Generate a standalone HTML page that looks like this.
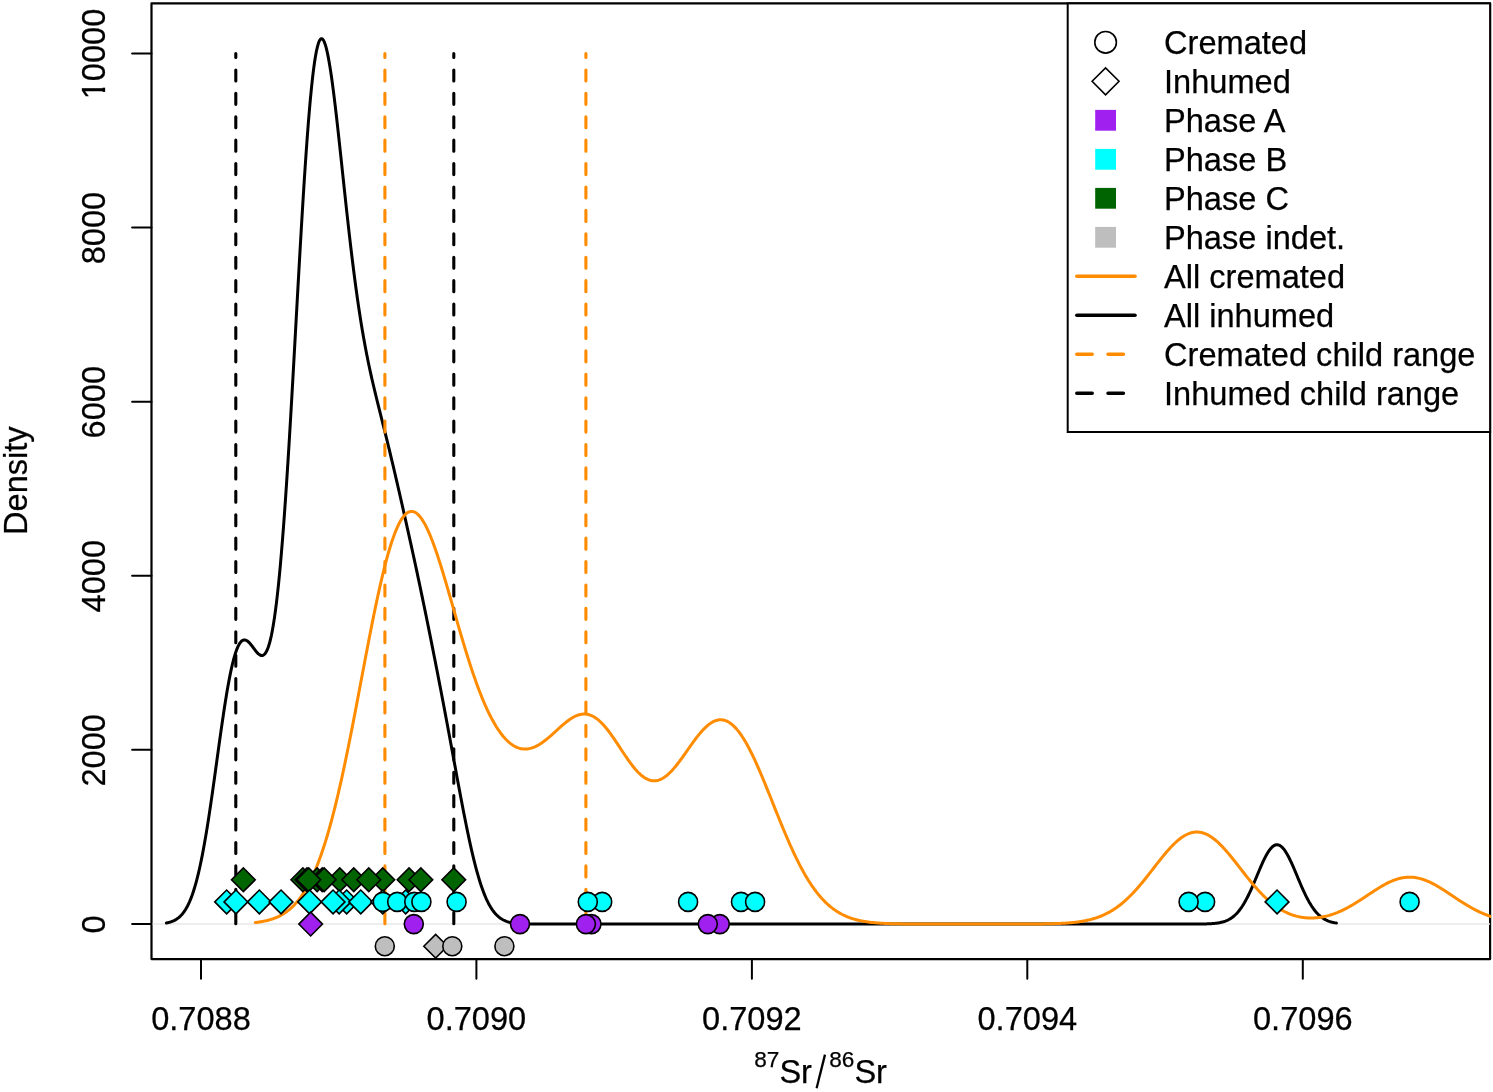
<!DOCTYPE html>
<html><head><meta charset="utf-8"><title>Sr density</title>
<style>
html,body{margin:0;padding:0;background:#fff;}
svg{display:block;will-change:transform;}
text{font-family:"Liberation Sans",sans-serif;font-size:32.6px;fill:#000;stroke:#000;stroke-width:0.25px;}
.sup{font-size:22.6px;}
</style></head><body>
<svg width="1493" height="1092" viewBox="0 0 1493 1092">
<rect x="0" y="0" width="1493" height="1092" fill="#fff"/>
<defs><clipPath id="pc"><rect x="151.5" y="3.4" width="1339.6" height="955.7"/></clipPath></defs>
<rect x="151.5" y="3.4" width="1338.6" height="955.7" fill="none" stroke="#000" stroke-width="2.2" stroke-linejoin="round"/>
<g clip-path="url(#pc)">
<line x1="151.5" y1="924.0" x2="1490.1" y2="924.0" stroke="#e9e9e9" stroke-width="1.6"/>
<path d="M166.4,922.91 L167.4,922.72 L168.4,922.51 L169.4,922.26 L170.4,921.97 L171.4,921.65 L172.4,921.28 L173.4,920.87 L174.4,920.40 L175.4,919.86 L176.4,919.27 L177.4,918.60 L178.4,917.85 L179.4,917.01 L180.4,916.08 L181.4,915.05 L182.4,913.91 L183.4,912.64 L184.4,911.25 L185.4,909.72 L186.4,908.05 L187.4,906.22 L188.4,904.22 L189.4,902.05 L190.4,899.70 L191.4,897.15 L192.4,894.41 L193.4,891.45 L194.4,888.28 L195.4,884.89 L196.4,881.28 L197.4,877.43 L198.4,873.34 L199.4,869.02 L200.4,864.45 L201.4,859.65 L202.4,854.61 L203.4,849.33 L204.4,843.82 L205.4,838.09 L206.4,832.15 L207.4,826.00 L208.4,819.66 L209.4,813.14 L210.4,806.46 L211.4,799.62 L212.4,792.67 L213.4,785.60 L214.4,778.45 L215.4,771.24 L216.4,763.99 L217.4,756.73 L218.4,749.49 L219.4,742.28 L220.4,735.15 L221.4,728.11 L222.4,721.19 L223.4,714.42 L224.4,707.83 L225.4,701.44 L226.4,695.28 L227.4,689.37 L228.4,683.73 L229.4,678.39 L230.4,673.35 L231.4,668.64 L232.4,664.27 L233.4,660.26 L234.4,656.60 L235.4,653.31 L236.4,650.40 L237.4,647.85 L238.4,645.68 L239.4,643.87 L240.4,642.42 L241.4,641.31 L242.4,640.54 L243.4,640.08 L244.4,639.93 L245.4,640.05 L246.4,640.43 L247.4,641.04 L248.4,641.85 L249.4,642.84 L250.4,643.96 L251.4,645.20 L252.4,646.51 L253.4,647.86 L254.4,649.21 L255.4,650.53 L256.4,651.78 L257.4,652.91 L258.4,653.89 L259.4,654.68 L260.4,655.24 L261.4,655.53 L262.4,655.51 L263.4,655.14 L264.4,654.39 L265.4,653.21 L266.4,651.57 L267.4,649.44 L268.4,646.78 L269.4,643.56 L270.4,639.75 L271.4,635.33 L272.4,630.26 L273.4,624.53 L274.4,618.11 L275.4,610.99 L276.4,603.16 L277.4,594.61 L278.4,585.33 L279.4,575.32 L280.4,564.59 L281.4,553.14 L282.4,540.98 L283.4,528.13 L284.4,514.62 L285.4,500.48 L286.4,485.72 L287.4,470.40 L288.4,454.55 L289.4,438.23 L290.4,421.47 L291.4,404.34 L292.4,386.90 L293.4,369.21 L294.4,351.34 L295.4,333.35 L296.4,315.32 L297.4,297.32 L298.4,279.42 L299.4,261.71 L300.4,244.25 L301.4,227.12 L302.4,210.39 L303.4,194.13 L304.4,178.41 L305.4,163.31 L306.4,148.87 L307.4,135.15 L308.4,122.21 L309.4,110.10 L310.4,98.86 L311.4,88.53 L312.4,79.13 L313.4,70.69 L314.4,63.23 L315.4,56.76 L316.4,51.28 L317.4,46.80 L318.4,43.31 L319.4,40.80 L320.4,39.25 L321.4,38.64 L322.4,38.94 L323.4,40.12 L324.4,42.14 L325.4,44.97 L326.4,48.56 L327.4,52.87 L328.4,57.85 L329.4,63.45 L330.4,69.63 L331.4,76.34 L332.4,83.52 L333.4,91.13 L334.4,99.12 L335.4,107.44 L336.4,116.04 L337.4,124.87 L338.4,133.89 L339.4,143.07 L340.4,152.35 L341.4,161.70 L342.4,171.08 L343.4,180.47 L344.4,189.82 L345.4,199.11 L346.4,208.31 L347.4,217.41 L348.4,226.36 L349.4,235.16 L350.4,243.80 L351.4,252.24 L352.4,260.49 L353.4,268.53 L354.4,276.34 L355.4,283.94 L356.4,291.31 L357.4,298.44 L358.4,305.35 L359.4,312.02 L360.4,318.47 L361.4,324.70 L362.4,330.70 L363.4,336.50 L364.4,342.10 L365.4,347.51 L366.4,352.73 L367.4,357.79 L368.4,362.69 L369.4,367.44 L370.4,372.06 L371.4,376.57 L372.4,380.97 L373.4,385.27 L374.4,389.50 L375.4,393.65 L376.4,397.76 L377.4,401.82 L378.4,405.84 L379.4,409.85 L380.4,413.84 L381.4,417.82 L382.4,421.81 L383.4,425.81 L384.4,429.82 L385.4,433.84 L386.4,437.89 L387.4,441.96 L388.4,446.06 L389.4,450.19 L390.4,454.34 L391.4,458.53 L392.4,462.74 L393.4,466.97 L394.4,471.23 L395.4,475.51 L396.4,479.82 L397.4,484.15 L398.4,488.49 L399.4,492.86 L400.4,497.24 L401.4,501.63 L402.4,506.04 L403.4,510.46 L404.4,514.90 L405.4,519.36 L406.4,523.82 L407.4,528.30 L408.4,532.80 L409.4,537.31 L410.4,541.84 L411.4,546.39 L412.4,550.96 L413.4,555.55 L414.4,560.15 L415.4,564.79 L416.4,569.44 L417.4,574.12 L418.4,578.82 L419.4,583.54 L420.4,588.29 L421.4,593.07 L422.4,597.87 L423.4,602.69 L424.4,607.54 L425.4,612.41 L426.4,617.31 L427.4,622.22 L428.4,627.16 L429.4,632.13 L430.4,637.11 L431.4,642.11 L432.4,647.13 L433.4,652.18 L434.4,657.24 L435.4,662.33 L436.4,667.43 L437.4,672.56 L438.4,677.71 L439.4,682.88 L440.4,688.07 L441.4,693.29 L442.4,698.52 L443.4,703.78 L444.4,709.06 L445.4,714.37 L446.4,719.69 L447.4,725.04 L448.4,730.41 L449.4,735.79 L450.4,741.19 L451.4,746.61 L452.4,752.03 L453.4,757.46 L454.4,762.89 L455.4,768.32 L456.4,773.74 L457.4,779.15 L458.4,784.54 L459.4,789.90 L460.4,795.22 L461.4,800.51 L462.4,805.74 L463.4,810.92 L464.4,816.03 L465.4,821.07 L466.4,826.03 L467.4,830.90 L468.4,835.68 L469.4,840.35 L470.4,844.91 L471.4,849.35 L472.4,853.67 L473.4,857.85 L474.4,861.91 L475.4,865.82 L476.4,869.59 L477.4,873.21 L478.4,876.69 L479.4,880.01 L480.4,883.18 L481.4,886.20 L482.4,889.07 L483.4,891.78 L484.4,894.35 L485.4,896.77 L486.4,899.05 L487.4,901.18 L488.4,903.18 L489.4,905.04 L490.4,906.78 L491.4,908.39 L492.4,909.88 L493.4,911.26 L494.4,912.53 L495.4,913.69 L496.4,914.76 L497.4,915.74 L498.4,916.63 L499.4,917.44 L500.4,918.18 L501.4,918.84 L502.4,919.45 L503.4,919.99 L504.4,920.47 L505.4,920.91 L506.4,921.30 L507.4,921.64 L508.4,921.95 L509.4,922.22 L510.4,922.46 L511.4,922.68 L512.4,922.86 L513.4,923.03 L514.4,923.17 L515.4,923.29 L516.4,923.40 L517.4,923.50 L518.4,923.58 L519.4,923.65 L520.4,923.71 L521.4,923.76 L522.4,923.81 L523.4,923.85 L524.4,923.88 L525.4,923.91 L526.4,923.93 L527.4,923.95 L528.4,923.97 L529.4,923.98 L530.4,923.99 L531.4,924.00 L532.4,924.01 L533.4,924.02 L534.4,924.02 L535.4,924.03 L536.4,924.03 L537.4,924.04 L538.4,924.04 L539.4,924.04 L540.4,924.04 L541.4,924.04 L542.4,924.05 L543.4,924.05 L544.4,924.05 L545.4,924.05 L546.4,924.05 L547.4,924.05 L548.4,924.05 L549.4,924.05 L550.4,924.05 L551.4,924.05 L552.4,924.05 L553.4,924.05 L554.4,924.05 L555.4,924.05 L556.4,924.05 L557.4,924.05 L558.4,924.05 L559.4,924.05 L560.4,924.05 L561.4,924.05 L562.4,924.05 L563.4,924.05 L564.4,924.05 L565.4,924.05 L566.4,924.05 L567.4,924.05 L568.4,924.05 L569.4,924.05 L570.4,924.05 L571.4,924.05 L572.4,924.05 L573.4,924.05 L574.4,924.05 L575.4,924.05 L576.4,924.05 L577.4,924.05 L578.4,924.05 L579.4,924.05 L580.4,924.05 L581.4,924.05 L582.4,924.05 L583.4,924.05 L584.4,924.05 L585.4,924.05 L586.4,924.05 L587.4,924.05 L588.4,924.05 L589.4,924.05 L590.4,924.05 L591.4,924.05 L592.4,924.05 L593.4,924.05 L594.4,924.05 L595.4,924.05 L596.4,924.05 L597.4,924.05 L598.4,924.05 L599.4,924.05 L600.4,924.05 L601.4,924.05 L602.4,924.05 L603.4,924.05 L604.4,924.05 L605.4,924.05 L606.4,924.05 L607.4,924.05 L608.4,924.05 L609.4,924.05 L610.4,924.05 L611.4,924.05 L612.4,924.05 L613.4,924.05 L614.4,924.05 L615.4,924.05 L616.4,924.05 L617.4,924.05 L618.4,924.05 L619.4,924.05 L620.4,924.05 L621.4,924.05 L622.4,924.05 L623.4,924.05 L624.4,924.05 L625.4,924.05 L626.4,924.05 L627.4,924.05 L628.4,924.05 L629.4,924.05 L630.4,924.05 L631.4,924.05 L632.4,924.05 L633.4,924.05 L634.4,924.05 L635.4,924.05 L636.4,924.05 L637.4,924.05 L638.4,924.05 L639.4,924.05 L640.4,924.05 L641.4,924.05 L642.4,924.05 L643.4,924.05 L644.4,924.05 L645.4,924.05 L646.4,924.05 L647.4,924.05 L648.4,924.05 L649.4,924.05 L650.4,924.05 L651.4,924.05 L652.4,924.05 L653.4,924.05 L654.4,924.05 L655.4,924.05 L656.4,924.05 L657.4,924.05 L658.4,924.05 L659.4,924.05 L660.4,924.05 L661.4,924.05 L662.4,924.05 L663.4,924.05 L664.4,924.05 L665.4,924.05 L666.4,924.05 L667.4,924.05 L668.4,924.05 L669.4,924.05 L670.4,924.05 L671.4,924.05 L672.4,924.05 L673.4,924.05 L674.4,924.05 L675.4,924.05 L676.4,924.05 L677.4,924.05 L678.4,924.05 L679.4,924.05 L680.4,924.05 L681.4,924.05 L682.4,924.05 L683.4,924.05 L684.4,924.05 L685.4,924.05 L686.4,924.05 L687.4,924.05 L688.4,924.05 L689.4,924.05 L690.4,924.05 L691.4,924.05 L692.4,924.05 L693.4,924.05 L694.4,924.05 L695.4,924.05 L696.4,924.05 L697.4,924.05 L698.4,924.05 L699.4,924.05 L700.4,924.05 L701.4,924.05 L702.4,924.05 L703.4,924.05 L704.4,924.05 L705.4,924.05 L706.4,924.05 L707.4,924.05 L708.4,924.05 L709.4,924.05 L710.4,924.05 L711.4,924.05 L712.4,924.05 L713.4,924.05 L714.4,924.05 L715.4,924.05 L716.4,924.05 L717.4,924.05 L718.4,924.05 L719.4,924.05 L720.4,924.05 L721.4,924.05 L722.4,924.05 L723.4,924.05 L724.4,924.05 L725.4,924.05 L726.4,924.05 L727.4,924.05 L728.4,924.05 L729.4,924.05 L730.4,924.05 L731.4,924.05 L732.4,924.05 L733.4,924.05 L734.4,924.05 L735.4,924.05 L736.4,924.05 L737.4,924.05 L738.4,924.05 L739.4,924.05 L740.4,924.05 L741.4,924.05 L742.4,924.05 L743.4,924.05 L744.4,924.05 L745.4,924.05 L746.4,924.05 L747.4,924.05 L748.4,924.05 L749.4,924.05 L750.4,924.05 L751.4,924.05 L752.4,924.05 L753.4,924.05 L754.4,924.05 L755.4,924.05 L756.4,924.05 L757.4,924.05 L758.4,924.05 L759.4,924.05 L760.4,924.05 L761.4,924.05 L762.4,924.05 L763.4,924.05 L764.4,924.05 L765.4,924.05 L766.4,924.05 L767.4,924.05 L768.4,924.05 L769.4,924.05 L770.4,924.05 L771.4,924.05 L772.4,924.05 L773.4,924.05 L774.4,924.05 L775.4,924.05 L776.4,924.05 L777.4,924.05 L778.4,924.05 L779.4,924.05 L780.4,924.05 L781.4,924.05 L782.4,924.05 L783.4,924.05 L784.4,924.05 L785.4,924.05 L786.4,924.05 L787.4,924.05 L788.4,924.05 L789.4,924.05 L790.4,924.05 L791.4,924.05 L792.4,924.05 L793.4,924.05 L794.4,924.05 L795.4,924.05 L796.4,924.05 L797.4,924.05 L798.4,924.05 L799.4,924.05 L800.4,924.05 L801.4,924.05 L802.4,924.05 L803.4,924.05 L804.4,924.05 L805.4,924.05 L806.4,924.05 L807.4,924.05 L808.4,924.05 L809.4,924.05 L810.4,924.05 L811.4,924.05 L812.4,924.05 L813.4,924.05 L814.4,924.05 L815.4,924.05 L816.4,924.05 L817.4,924.05 L818.4,924.05 L819.4,924.05 L820.4,924.05 L821.4,924.05 L822.4,924.05 L823.4,924.05 L824.4,924.05 L825.4,924.05 L826.4,924.05 L827.4,924.05 L828.4,924.05 L829.4,924.05 L830.4,924.05 L831.4,924.05 L832.4,924.05 L833.4,924.05 L834.4,924.05 L835.4,924.05 L836.4,924.05 L837.4,924.05 L838.4,924.05 L839.4,924.05 L840.4,924.05 L841.4,924.05 L842.4,924.05 L843.4,924.05 L844.4,924.05 L845.4,924.05 L846.4,924.05 L847.4,924.05 L848.4,924.05 L849.4,924.05 L850.4,924.05 L851.4,924.05 L852.4,924.05 L853.4,924.05 L854.4,924.05 L855.4,924.05 L856.4,924.05 L857.4,924.05 L858.4,924.05 L859.4,924.05 L860.4,924.05 L861.4,924.05 L862.4,924.05 L863.4,924.05 L864.4,924.05 L865.4,924.05 L866.4,924.05 L867.4,924.05 L868.4,924.05 L869.4,924.05 L870.4,924.05 L871.4,924.05 L872.4,924.05 L873.4,924.05 L874.4,924.05 L875.4,924.05 L876.4,924.05 L877.4,924.05 L878.4,924.05 L879.4,924.05 L880.4,924.05 L881.4,924.05 L882.4,924.05 L883.4,924.05 L884.4,924.05 L885.4,924.05 L886.4,924.05 L887.4,924.05 L888.4,924.05 L889.4,924.05 L890.4,924.05 L891.4,924.05 L892.4,924.05 L893.4,924.05 L894.4,924.05 L895.4,924.05 L896.4,924.05 L897.4,924.05 L898.4,924.05 L899.4,924.05 L900.4,924.05 L901.4,924.05 L902.4,924.05 L903.4,924.05 L904.4,924.05 L905.4,924.05 L906.4,924.05 L907.4,924.05 L908.4,924.05 L909.4,924.05 L910.4,924.05 L911.4,924.05 L912.4,924.05 L913.4,924.05 L914.4,924.05 L915.4,924.05 L916.4,924.05 L917.4,924.05 L918.4,924.05 L919.4,924.05 L920.4,924.05 L921.4,924.05 L922.4,924.05 L923.4,924.05 L924.4,924.05 L925.4,924.05 L926.4,924.05 L927.4,924.05 L928.4,924.05 L929.4,924.05 L930.4,924.05 L931.4,924.05 L932.4,924.05 L933.4,924.05 L934.4,924.05 L935.4,924.05 L936.4,924.05 L937.4,924.05 L938.4,924.05 L939.4,924.05 L940.4,924.05 L941.4,924.05 L942.4,924.05 L943.4,924.05 L944.4,924.05 L945.4,924.05 L946.4,924.05 L947.4,924.05 L948.4,924.05 L949.4,924.05 L950.4,924.05 L951.4,924.05 L952.4,924.05 L953.4,924.05 L954.4,924.05 L955.4,924.05 L956.4,924.05 L957.4,924.05 L958.4,924.05 L959.4,924.05 L960.4,924.05 L961.4,924.05 L962.4,924.05 L963.4,924.05 L964.4,924.05 L965.4,924.05 L966.4,924.05 L967.4,924.05 L968.4,924.05 L969.4,924.05 L970.4,924.05 L971.4,924.05 L972.4,924.05 L973.4,924.05 L974.4,924.05 L975.4,924.05 L976.4,924.05 L977.4,924.05 L978.4,924.05 L979.4,924.05 L980.4,924.05 L981.4,924.05 L982.4,924.05 L983.4,924.05 L984.4,924.05 L985.4,924.05 L986.4,924.05 L987.4,924.05 L988.4,924.05 L989.4,924.05 L990.4,924.05 L991.4,924.05 L992.4,924.05 L993.4,924.05 L994.4,924.05 L995.4,924.05 L996.4,924.05 L997.4,924.05 L998.4,924.05 L999.4,924.05 L1000.4,924.05 L1001.4,924.05 L1002.4,924.05 L1003.4,924.05 L1004.4,924.05 L1005.4,924.05 L1006.4,924.05 L1007.4,924.05 L1008.4,924.05 L1009.4,924.05 L1010.4,924.05 L1011.4,924.05 L1012.4,924.05 L1013.4,924.05 L1014.4,924.05 L1015.4,924.05 L1016.4,924.05 L1017.4,924.05 L1018.4,924.05 L1019.4,924.05 L1020.4,924.05 L1021.4,924.05 L1022.4,924.05 L1023.4,924.05 L1024.4,924.05 L1025.4,924.05 L1026.4,924.05 L1027.4,924.05 L1028.4,924.05 L1029.4,924.05 L1030.4,924.05 L1031.4,924.05 L1032.4,924.05 L1033.4,924.05 L1034.4,924.05 L1035.4,924.05 L1036.4,924.05 L1037.4,924.05 L1038.4,924.05 L1039.4,924.05 L1040.4,924.05 L1041.4,924.05 L1042.4,924.05 L1043.4,924.05 L1044.4,924.05 L1045.4,924.05 L1046.4,924.05 L1047.4,924.05 L1048.4,924.05 L1049.4,924.05 L1050.4,924.05 L1051.4,924.05 L1052.4,924.05 L1053.4,924.05 L1054.4,924.05 L1055.4,924.05 L1056.4,924.05 L1057.4,924.05 L1058.4,924.05 L1059.4,924.05 L1060.4,924.05 L1061.4,924.05 L1062.4,924.05 L1063.4,924.05 L1064.4,924.05 L1065.4,924.05 L1066.4,924.05 L1067.4,924.05 L1068.4,924.05 L1069.4,924.05 L1070.4,924.05 L1071.4,924.05 L1072.4,924.05 L1073.4,924.05 L1074.4,924.05 L1075.4,924.05 L1076.4,924.05 L1077.4,924.05 L1078.4,924.05 L1079.4,924.05 L1080.4,924.05 L1081.4,924.05 L1082.4,924.05 L1083.4,924.05 L1084.4,924.05 L1085.4,924.05 L1086.4,924.05 L1087.4,924.05 L1088.4,924.05 L1089.4,924.05 L1090.4,924.05 L1091.4,924.05 L1092.4,924.05 L1093.4,924.05 L1094.4,924.05 L1095.4,924.05 L1096.4,924.05 L1097.4,924.05 L1098.4,924.05 L1099.4,924.05 L1100.4,924.05 L1101.4,924.05 L1102.4,924.05 L1103.4,924.05 L1104.4,924.05 L1105.4,924.05 L1106.4,924.05 L1107.4,924.05 L1108.4,924.05 L1109.4,924.05 L1110.4,924.05 L1111.4,924.05 L1112.4,924.05 L1113.4,924.05 L1114.4,924.05 L1115.4,924.05 L1116.4,924.05 L1117.4,924.05 L1118.4,924.05 L1119.4,924.05 L1120.4,924.05 L1121.4,924.05 L1122.4,924.05 L1123.4,924.05 L1124.4,924.05 L1125.4,924.05 L1126.4,924.05 L1127.4,924.05 L1128.4,924.05 L1129.4,924.05 L1130.4,924.05 L1131.4,924.05 L1132.4,924.05 L1133.4,924.05 L1134.4,924.05 L1135.4,924.05 L1136.4,924.05 L1137.4,924.05 L1138.4,924.05 L1139.4,924.05 L1140.4,924.05 L1141.4,924.05 L1142.4,924.05 L1143.4,924.05 L1144.4,924.05 L1145.4,924.05 L1146.4,924.05 L1147.4,924.05 L1148.4,924.05 L1149.4,924.05 L1150.4,924.05 L1151.4,924.05 L1152.4,924.05 L1153.4,924.05 L1154.4,924.05 L1155.4,924.05 L1156.4,924.05 L1157.4,924.05 L1158.4,924.05 L1159.4,924.05 L1160.4,924.05 L1161.4,924.05 L1162.4,924.05 L1163.4,924.05 L1164.4,924.05 L1165.4,924.05 L1166.4,924.05 L1167.4,924.05 L1168.4,924.05 L1169.4,924.05 L1170.4,924.05 L1171.4,924.05 L1172.4,924.05 L1173.4,924.05 L1174.4,924.05 L1175.4,924.05 L1176.4,924.05 L1177.4,924.05 L1178.4,924.05 L1179.4,924.05 L1180.4,924.05 L1181.4,924.05 L1182.4,924.05 L1183.4,924.05 L1184.4,924.05 L1185.4,924.05 L1186.4,924.05 L1187.4,924.05 L1188.4,924.05 L1189.4,924.04 L1190.4,924.04 L1191.4,924.04 L1192.4,924.04 L1193.4,924.04 L1194.4,924.03 L1195.4,924.03 L1196.4,924.02 L1197.4,924.02 L1198.4,924.01 L1199.4,924.00 L1200.4,923.99 L1201.4,923.98 L1202.4,923.97 L1203.4,923.95 L1204.4,923.93 L1205.4,923.91 L1206.4,923.88 L1207.4,923.85 L1208.4,923.82 L1209.4,923.77 L1210.4,923.72 L1211.4,923.66 L1212.4,923.60 L1213.4,923.52 L1214.4,923.43 L1215.4,923.33 L1216.4,923.21 L1217.4,923.07 L1218.4,922.92 L1219.4,922.74 L1220.4,922.55 L1221.4,922.32 L1222.4,922.07 L1223.4,921.78 L1224.4,921.47 L1225.4,921.11 L1226.4,920.71 L1227.4,920.27 L1228.4,919.79 L1229.4,919.25 L1230.4,918.65 L1231.4,918.00 L1232.4,917.29 L1233.4,916.51 L1234.4,915.66 L1235.4,914.74 L1236.4,913.74 L1237.4,912.66 L1238.4,911.51 L1239.4,910.26 L1240.4,908.94 L1241.4,907.53 L1242.4,906.03 L1243.4,904.44 L1244.4,902.77 L1245.4,901.01 L1246.4,899.16 L1247.4,897.24 L1248.4,895.23 L1249.4,893.16 L1250.4,891.01 L1251.4,888.81 L1252.4,886.55 L1253.4,884.25 L1254.4,881.90 L1255.4,879.53 L1256.4,877.15 L1257.4,874.76 L1258.4,872.37 L1259.4,870.00 L1260.4,867.66 L1261.4,865.37 L1262.4,863.14 L1263.4,860.97 L1264.4,858.90 L1265.4,856.91 L1266.4,855.04 L1267.4,853.30 L1268.4,851.69 L1269.4,850.22 L1270.4,848.91 L1271.4,847.77 L1272.4,846.80 L1273.4,846.01 L1274.4,845.41 L1275.4,845.00 L1276.4,844.78 L1277.4,844.76 L1278.4,844.94 L1279.4,845.31 L1280.4,845.88 L1281.4,846.63 L1282.4,847.56 L1283.4,848.67 L1284.4,849.95 L1285.4,851.38 L1286.4,852.96 L1287.4,854.68 L1288.4,856.53 L1289.4,858.49 L1290.4,860.55 L1291.4,862.70 L1292.4,864.92 L1293.4,867.20 L1294.4,869.53 L1295.4,871.89 L1296.4,874.28 L1297.4,876.67 L1298.4,879.06 L1299.4,881.43 L1300.4,883.78 L1301.4,886.09 L1302.4,888.36 L1303.4,890.58 L1304.4,892.73 L1305.4,894.82 L1306.4,896.84 L1307.4,898.78 L1308.4,900.64 L1309.4,902.42 L1310.4,904.11 L1311.4,905.72 L1312.4,907.23 L1313.4,908.66 L1314.4,910.01 L1315.4,911.26 L1316.4,912.44 L1317.4,913.53 L1318.4,914.54 L1319.4,915.48 L1320.4,916.34 L1321.4,917.14 L1322.4,917.86 L1323.4,918.53 L1324.4,919.13 L1325.4,919.68 L1326.4,920.18 L1327.4,920.63 L1328.4,921.04 L1329.4,921.40 L1330.4,921.72 L1331.4,922.01 L1332.4,922.27 L1333.4,922.50 L1334.4,922.71 L1335.4,922.89 L1336.4,923.04" fill="none" stroke="#000" stroke-width="3.0" stroke-linejoin="round" stroke-linecap="round"/>
<line x1="235.8" y1="923.7" x2="235.8" y2="53.5" stroke="#000" stroke-width="3.1" stroke-dasharray="11.0 12.41" stroke-linecap="round"/>
<line x1="453.8" y1="923.7" x2="453.8" y2="53.5" stroke="#000" stroke-width="3.1" stroke-dasharray="11.0 12.41" stroke-linecap="round"/>
<line x1="384.9" y1="923.7" x2="384.9" y2="53.5" stroke="#FF8C00" stroke-width="3.1" stroke-dasharray="11.0 12.41" stroke-linecap="round"/>
<line x1="585.9" y1="923.7" x2="585.9" y2="53.5" stroke="#FF8C00" stroke-width="3.1" stroke-dasharray="11.0 12.41" stroke-linecap="round"/>
<path d="M255.3,922.52 L256.3,922.41 L257.3,922.28 L258.3,922.14 L259.3,922.00 L260.3,921.84 L261.3,921.68 L262.3,921.50 L263.3,921.32 L264.3,921.12 L265.3,920.90 L266.3,920.68 L267.3,920.44 L268.3,920.18 L269.3,919.91 L270.3,919.62 L271.3,919.31 L272.3,918.99 L273.3,918.65 L274.3,918.28 L275.3,917.89 L276.3,917.49 L277.3,917.05 L278.3,916.60 L279.3,916.11 L280.3,915.60 L281.3,915.07 L282.3,914.50 L283.3,913.90 L284.3,913.27 L285.3,912.61 L286.3,911.91 L287.3,911.18 L288.3,910.41 L289.3,909.60 L290.3,908.75 L291.3,907.86 L292.3,906.93 L293.3,905.95 L294.3,904.93 L295.3,903.85 L296.3,902.73 L297.3,901.56 L298.3,900.34 L299.3,899.06 L300.3,897.73 L301.3,896.33 L302.3,894.89 L303.3,893.38 L304.3,891.80 L305.3,890.17 L306.3,888.47 L307.3,886.70 L308.3,884.87 L309.3,882.97 L310.3,880.99 L311.3,878.95 L312.3,876.83 L313.3,874.63 L314.3,872.36 L315.3,870.02 L316.3,867.59 L317.3,865.09 L318.3,862.50 L319.3,859.84 L320.3,857.09 L321.3,854.26 L322.3,851.34 L323.3,848.35 L324.3,845.26 L325.3,842.10 L326.3,838.84 L327.3,835.51 L328.3,832.09 L329.3,828.58 L330.3,824.99 L331.3,821.31 L332.3,817.55 L333.3,813.71 L334.3,809.78 L335.3,805.78 L336.3,801.69 L337.3,797.53 L338.3,793.28 L339.3,788.96 L340.3,784.57 L341.3,780.10 L342.3,775.57 L343.3,770.96 L344.3,766.29 L345.3,761.56 L346.3,756.76 L347.3,751.91 L348.3,747.00 L349.3,742.04 L350.3,737.03 L351.3,731.97 L352.3,726.87 L353.3,721.74 L354.3,716.57 L355.3,711.37 L356.3,706.14 L357.3,700.89 L358.3,695.62 L359.3,690.34 L360.3,685.05 L361.3,679.76 L362.3,674.46 L363.3,669.17 L364.3,663.89 L365.3,658.63 L366.3,653.39 L367.3,648.17 L368.3,642.98 L369.3,637.82 L370.3,632.71 L371.3,627.64 L372.3,622.62 L373.3,617.66 L374.3,612.76 L375.3,607.92 L376.3,603.15 L377.3,598.46 L378.3,593.85 L379.3,589.33 L380.3,584.89 L381.3,580.55 L382.3,576.31 L383.3,572.17 L384.3,568.14 L385.3,564.23 L386.3,560.43 L387.3,556.75 L388.3,553.19 L389.3,549.76 L390.3,546.46 L391.3,543.30 L392.3,540.27 L393.3,537.39 L394.3,534.64 L395.3,532.05 L396.3,529.60 L397.3,527.30 L398.3,525.15 L399.3,523.15 L400.3,521.31 L401.3,519.62 L402.3,518.09 L403.3,516.72 L404.3,515.50 L405.3,514.45 L406.3,513.55 L407.3,512.81 L408.3,512.23 L409.3,511.80 L410.3,511.53 L411.3,511.41 L412.3,511.45 L413.3,511.64 L414.3,511.98 L415.3,512.47 L416.3,513.11 L417.3,513.88 L418.3,514.81 L419.3,515.87 L420.3,517.06 L421.3,518.39 L422.3,519.85 L423.3,521.44 L424.3,523.15 L425.3,524.98 L426.3,526.92 L427.3,528.98 L428.3,531.15 L429.3,533.42 L430.3,535.79 L431.3,538.26 L432.3,540.82 L433.3,543.46 L434.3,546.20 L435.3,549.01 L436.3,551.89 L437.3,554.85 L438.3,557.87 L439.3,560.95 L440.3,564.10 L441.3,567.29 L442.3,570.53 L443.3,573.82 L444.3,577.14 L445.3,580.51 L446.3,583.90 L447.3,587.32 L448.3,590.76 L449.3,594.22 L450.3,597.70 L451.3,601.19 L452.3,604.68 L453.3,608.18 L454.3,611.68 L455.3,615.18 L456.3,618.66 L457.3,622.14 L458.3,625.61 L459.3,629.05 L460.3,632.48 L461.3,635.89 L462.3,639.27 L463.3,642.62 L464.3,645.94 L465.3,649.23 L466.3,652.48 L467.3,655.70 L468.3,658.88 L469.3,662.01 L470.3,665.11 L471.3,668.15 L472.3,671.16 L473.3,674.11 L474.3,677.01 L475.3,679.87 L476.3,682.67 L477.3,685.42 L478.3,688.11 L479.3,690.75 L480.3,693.33 L481.3,695.86 L482.3,698.33 L483.3,700.74 L484.3,703.09 L485.3,705.39 L486.3,707.62 L487.3,709.80 L488.3,711.91 L489.3,713.97 L490.3,715.97 L491.3,717.90 L492.3,719.78 L493.3,721.59 L494.3,723.35 L495.3,725.04 L496.3,726.68 L497.3,728.25 L498.3,729.77 L499.3,731.22 L500.3,732.62 L501.3,733.96 L502.3,735.23 L503.3,736.45 L504.3,737.61 L505.3,738.71 L506.3,739.76 L507.3,740.74 L508.3,741.67 L509.3,742.54 L510.3,743.36 L511.3,744.11 L512.3,744.82 L513.3,745.46 L514.3,746.05 L515.3,746.59 L516.3,747.07 L517.3,747.50 L518.3,747.87 L519.3,748.19 L520.3,748.46 L521.3,748.68 L522.3,748.84 L523.3,748.96 L524.3,749.02 L525.3,749.03 L526.3,749.00 L527.3,748.92 L528.3,748.79 L529.3,748.61 L530.3,748.38 L531.3,748.12 L532.3,747.80 L533.3,747.45 L534.3,747.05 L535.3,746.62 L536.3,746.14 L537.3,745.62 L538.3,745.07 L539.3,744.49 L540.3,743.86 L541.3,743.21 L542.3,742.53 L543.3,741.81 L544.3,741.07 L545.3,740.31 L546.3,739.51 L547.3,738.70 L548.3,737.87 L549.3,737.02 L550.3,736.15 L551.3,735.27 L552.3,734.38 L553.3,733.48 L554.3,732.57 L555.3,731.66 L556.3,730.74 L557.3,729.83 L558.3,728.92 L559.3,728.01 L560.3,727.11 L561.3,726.22 L562.3,725.35 L563.3,724.48 L564.3,723.64 L565.3,722.82 L566.3,722.02 L567.3,721.24 L568.3,720.49 L569.3,719.77 L570.3,719.09 L571.3,718.44 L572.3,717.82 L573.3,717.25 L574.3,716.71 L575.3,716.22 L576.3,715.78 L577.3,715.38 L578.3,715.03 L579.3,714.73 L580.3,714.49 L581.3,714.29 L582.3,714.15 L583.3,714.07 L584.3,714.05 L585.3,714.08 L586.3,714.17 L587.3,714.32 L588.3,714.53 L589.3,714.81 L590.3,715.14 L591.3,715.53 L592.3,715.98 L593.3,716.50 L594.3,717.07 L595.3,717.70 L596.3,718.40 L597.3,719.14 L598.3,719.95 L599.3,720.81 L600.3,721.73 L601.3,722.70 L602.3,723.71 L603.3,724.78 L604.3,725.90 L605.3,727.06 L606.3,728.26 L607.3,729.51 L608.3,730.79 L609.3,732.11 L610.3,733.46 L611.3,734.85 L612.3,736.26 L613.3,737.69 L614.3,739.15 L615.3,740.63 L616.3,742.12 L617.3,743.62 L618.3,745.14 L619.3,746.66 L620.3,748.18 L621.3,749.70 L622.3,751.22 L623.3,752.74 L624.3,754.24 L625.3,755.73 L626.3,757.20 L627.3,758.65 L628.3,760.08 L629.3,761.49 L630.3,762.86 L631.3,764.20 L632.3,765.51 L633.3,766.78 L634.3,768.00 L635.3,769.19 L636.3,770.33 L637.3,771.42 L638.3,772.46 L639.3,773.45 L640.3,774.38 L641.3,775.25 L642.3,776.07 L643.3,776.82 L644.3,777.52 L645.3,778.15 L646.3,778.71 L647.3,779.21 L648.3,779.65 L649.3,780.01 L650.3,780.31 L651.3,780.54 L652.3,780.69 L653.3,780.78 L654.3,780.80 L655.3,780.76 L656.3,780.64 L657.3,780.45 L658.3,780.20 L659.3,779.87 L660.3,779.49 L661.3,779.03 L662.3,778.51 L663.3,777.93 L664.3,777.29 L665.3,776.59 L666.3,775.83 L667.3,775.01 L668.3,774.14 L669.3,773.22 L670.3,772.24 L671.3,771.22 L672.3,770.15 L673.3,769.04 L674.3,767.88 L675.3,766.69 L676.3,765.47 L677.3,764.21 L678.3,762.92 L679.3,761.60 L680.3,760.26 L681.3,758.89 L682.3,757.51 L683.3,756.12 L684.3,754.71 L685.3,753.29 L686.3,751.86 L687.3,750.43 L688.3,749.00 L689.3,747.58 L690.3,746.16 L691.3,744.75 L692.3,743.35 L693.3,741.97 L694.3,740.60 L695.3,739.26 L696.3,737.94 L697.3,736.64 L698.3,735.38 L699.3,734.15 L700.3,732.95 L701.3,731.79 L702.3,730.67 L703.3,729.59 L704.3,728.56 L705.3,727.58 L706.3,726.64 L707.3,725.76 L708.3,724.93 L709.3,724.15 L710.3,723.44 L711.3,722.78 L712.3,722.19 L713.3,721.65 L714.3,721.18 L715.3,720.78 L716.3,720.44 L717.3,720.17 L718.3,719.97 L719.3,719.84 L720.3,719.79 L721.3,719.80 L722.3,719.88 L723.3,720.04 L724.3,720.27 L725.3,720.57 L726.3,720.95 L727.3,721.40 L728.3,721.92 L729.3,722.52 L730.3,723.19 L731.3,723.93 L732.3,724.75 L733.3,725.64 L734.3,726.60 L735.3,727.63 L736.3,728.72 L737.3,729.89 L738.3,731.13 L739.3,732.43 L740.3,733.80 L741.3,735.23 L742.3,736.72 L743.3,738.28 L744.3,739.89 L745.3,741.56 L746.3,743.29 L747.3,745.08 L748.3,746.92 L749.3,748.81 L750.3,750.75 L751.3,752.74 L752.3,754.77 L753.3,756.85 L754.3,758.97 L755.3,761.12 L756.3,763.32 L757.3,765.55 L758.3,767.82 L759.3,770.11 L760.3,772.44 L761.3,774.79 L762.3,777.17 L763.3,779.57 L764.3,781.99 L765.3,784.43 L766.3,786.88 L767.3,789.35 L768.3,791.83 L769.3,794.31 L770.3,796.81 L771.3,799.31 L772.3,801.82 L773.3,804.32 L774.3,806.83 L775.3,809.33 L776.3,811.82 L777.3,814.31 L778.3,816.79 L779.3,819.27 L780.3,821.72 L781.3,824.17 L782.3,826.60 L783.3,829.01 L784.3,831.40 L785.3,833.77 L786.3,836.13 L787.3,838.45 L788.3,840.76 L789.3,843.03 L790.3,845.28 L791.3,847.51 L792.3,849.70 L793.3,851.86 L794.3,854.00 L795.3,856.09 L796.3,858.16 L797.3,860.19 L798.3,862.19 L799.3,864.16 L800.3,866.08 L801.3,867.97 L802.3,869.83 L803.3,871.65 L804.3,873.43 L805.3,875.17 L806.3,876.87 L807.3,878.54 L808.3,880.17 L809.3,881.76 L810.3,883.31 L811.3,884.82 L812.3,886.29 L813.3,887.73 L814.3,889.13 L815.3,890.49 L816.3,891.81 L817.3,893.10 L818.3,894.34 L819.3,895.56 L820.3,896.73 L821.3,897.87 L822.3,898.97 L823.3,900.04 L824.3,901.08 L825.3,902.08 L826.3,903.04 L827.3,903.98 L828.3,904.88 L829.3,905.75 L830.3,906.59 L831.3,907.40 L832.3,908.18 L833.3,908.93 L834.3,909.65 L835.3,910.34 L836.3,911.01 L837.3,911.65 L838.3,912.27 L839.3,912.86 L840.3,913.42 L841.3,913.97 L842.3,914.49 L843.3,914.98 L844.3,915.46 L845.3,915.91 L846.3,916.35 L847.3,916.76 L848.3,917.16 L849.3,917.54 L850.3,917.90 L851.3,918.24 L852.3,918.57 L853.3,918.88 L854.3,919.17 L855.3,919.45 L856.3,919.72 L857.3,919.98 L858.3,920.22 L859.3,920.44 L860.3,920.66 L861.3,920.87 L862.3,921.06 L863.3,921.24 L864.3,921.42 L865.3,921.58 L866.3,921.74 L867.3,921.88 L868.3,922.02 L869.3,922.15 L870.3,922.28 L871.3,922.39 L872.3,922.50 L873.3,922.60 L874.3,922.70 L875.3,922.79 L876.3,922.88 L877.3,922.96 L878.3,923.03 L879.3,923.10 L880.3,923.17 L881.3,923.23 L882.3,923.29 L883.3,923.34 L884.3,923.39 L885.3,923.44 L886.3,923.49 L887.3,923.53 L888.3,923.56 L889.3,923.60 L890.3,923.63 L891.3,923.67 L892.3,923.69 L893.3,923.72 L894.3,923.75 L895.3,923.77 L896.3,923.79 L897.3,923.81 L898.3,923.83 L899.3,923.85 L900.3,923.86 L901.3,923.88 L902.3,923.89 L903.3,923.91 L904.3,923.92 L905.3,923.93 L906.3,923.94 L907.3,923.95 L908.3,923.96 L909.3,923.96 L910.3,923.97 L911.3,923.98 L912.3,923.98 L913.3,923.99 L914.3,923.99 L915.3,924.00 L916.3,924.00 L917.3,924.01 L918.3,924.01 L919.3,924.02 L920.3,924.02 L921.3,924.02 L922.3,924.02 L923.3,924.03 L924.3,924.03 L925.3,924.03 L926.3,924.03 L927.3,924.03 L928.3,924.04 L929.3,924.04 L930.3,924.04 L931.3,924.04 L932.3,924.04 L933.3,924.04 L934.3,924.04 L935.3,924.04 L936.3,924.04 L937.3,924.04 L938.3,924.04 L939.3,924.05 L940.3,924.05 L941.3,924.05 L942.3,924.05 L943.3,924.05 L944.3,924.05 L945.3,924.05 L946.3,924.05 L947.3,924.05 L948.3,924.05 L949.3,924.05 L950.3,924.05 L951.3,924.05 L952.3,924.05 L953.3,924.05 L954.3,924.05 L955.3,924.05 L956.3,924.05 L957.3,924.05 L958.3,924.05 L959.3,924.05 L960.3,924.05 L961.3,924.05 L962.3,924.05 L963.3,924.05 L964.3,924.05 L965.3,924.05 L966.3,924.05 L967.3,924.05 L968.3,924.05 L969.3,924.05 L970.3,924.05 L971.3,924.05 L972.3,924.05 L973.3,924.05 L974.3,924.05 L975.3,924.05 L976.3,924.05 L977.3,924.05 L978.3,924.05 L979.3,924.05 L980.3,924.05 L981.3,924.05 L982.3,924.05 L983.3,924.05 L984.3,924.05 L985.3,924.05 L986.3,924.05 L987.3,924.05 L988.3,924.05 L989.3,924.05 L990.3,924.05 L991.3,924.05 L992.3,924.05 L993.3,924.05 L994.3,924.05 L995.3,924.05 L996.3,924.05 L997.3,924.05 L998.3,924.05 L999.3,924.05 L1000.3,924.05 L1001.3,924.05 L1002.3,924.05 L1003.3,924.05 L1004.3,924.05 L1005.3,924.04 L1006.3,924.04 L1007.3,924.04 L1008.3,924.04 L1009.3,924.04 L1010.3,924.04 L1011.3,924.04 L1012.3,924.04 L1013.3,924.04 L1014.3,924.04 L1015.3,924.04 L1016.3,924.03 L1017.3,924.03 L1018.3,924.03 L1019.3,924.03 L1020.3,924.03 L1021.3,924.03 L1022.3,924.02 L1023.3,924.02 L1024.3,924.02 L1025.3,924.01 L1026.3,924.01 L1027.3,924.01 L1028.3,924.00 L1029.3,924.00 L1030.3,923.99 L1031.3,923.99 L1032.3,923.98 L1033.3,923.98 L1034.3,923.97 L1035.3,923.96 L1036.3,923.96 L1037.3,923.95 L1038.3,923.94 L1039.3,923.93 L1040.3,923.92 L1041.3,923.91 L1042.3,923.89 L1043.3,923.88 L1044.3,923.87 L1045.3,923.85 L1046.3,923.83 L1047.3,923.82 L1048.3,923.80 L1049.3,923.78 L1050.3,923.75 L1051.3,923.73 L1052.3,923.70 L1053.3,923.68 L1054.3,923.65 L1055.3,923.61 L1056.3,923.58 L1057.3,923.54 L1058.3,923.50 L1059.3,923.46 L1060.3,923.42 L1061.3,923.37 L1062.3,923.32 L1063.3,923.26 L1064.3,923.21 L1065.3,923.14 L1066.3,923.08 L1067.3,923.01 L1068.3,922.93 L1069.3,922.85 L1070.3,922.77 L1071.3,922.68 L1072.3,922.59 L1073.3,922.49 L1074.3,922.38 L1075.3,922.27 L1076.3,922.15 L1077.3,922.02 L1078.3,921.89 L1079.3,921.75 L1080.3,921.60 L1081.3,921.44 L1082.3,921.27 L1083.3,921.10 L1084.3,920.92 L1085.3,920.72 L1086.3,920.52 L1087.3,920.31 L1088.3,920.08 L1089.3,919.85 L1090.3,919.60 L1091.3,919.34 L1092.3,919.07 L1093.3,918.78 L1094.3,918.48 L1095.3,918.17 L1096.3,917.85 L1097.3,917.51 L1098.3,917.15 L1099.3,916.78 L1100.3,916.39 L1101.3,915.99 L1102.3,915.57 L1103.3,915.13 L1104.3,914.68 L1105.3,914.21 L1106.3,913.72 L1107.3,913.21 L1108.3,912.68 L1109.3,912.13 L1110.3,911.57 L1111.3,910.98 L1112.3,910.37 L1113.3,909.74 L1114.3,909.10 L1115.3,908.43 L1116.3,907.74 L1117.3,907.02 L1118.3,906.29 L1119.3,905.53 L1120.3,904.76 L1121.3,903.96 L1122.3,903.14 L1123.3,902.30 L1124.3,901.43 L1125.3,900.54 L1126.3,899.64 L1127.3,898.71 L1128.3,897.76 L1129.3,896.78 L1130.3,895.79 L1131.3,894.78 L1132.3,893.74 L1133.3,892.69 L1134.3,891.62 L1135.3,890.53 L1136.3,889.42 L1137.3,888.29 L1138.3,887.15 L1139.3,885.99 L1140.3,884.81 L1141.3,883.62 L1142.3,882.42 L1143.3,881.20 L1144.3,879.97 L1145.3,878.73 L1146.3,877.48 L1147.3,876.22 L1148.3,874.95 L1149.3,873.68 L1150.3,872.40 L1151.3,871.12 L1152.3,869.83 L1153.3,868.54 L1154.3,867.25 L1155.3,865.96 L1156.3,864.68 L1157.3,863.40 L1158.3,862.12 L1159.3,860.85 L1160.3,859.59 L1161.3,858.34 L1162.3,857.10 L1163.3,855.88 L1164.3,854.67 L1165.3,853.47 L1166.3,852.29 L1167.3,851.14 L1168.3,850.00 L1169.3,848.88 L1170.3,847.79 L1171.3,846.73 L1172.3,845.69 L1173.3,844.68 L1174.3,843.70 L1175.3,842.75 L1176.3,841.83 L1177.3,840.95 L1178.3,840.10 L1179.3,839.29 L1180.3,838.51 L1181.3,837.78 L1182.3,837.08 L1183.3,836.43 L1184.3,835.82 L1185.3,835.25 L1186.3,834.73 L1187.3,834.25 L1188.3,833.81 L1189.3,833.43 L1190.3,833.08 L1191.3,832.79 L1192.3,832.54 L1193.3,832.35 L1194.3,832.20 L1195.3,832.10 L1196.3,832.05 L1197.3,832.04 L1198.3,832.09 L1199.3,832.19 L1200.3,832.33 L1201.3,832.52 L1202.3,832.76 L1203.3,833.05 L1204.3,833.39 L1205.3,833.77 L1206.3,834.20 L1207.3,834.68 L1208.3,835.20 L1209.3,835.76 L1210.3,836.37 L1211.3,837.02 L1212.3,837.71 L1213.3,838.44 L1214.3,839.21 L1215.3,840.01 L1216.3,840.86 L1217.3,841.74 L1218.3,842.65 L1219.3,843.60 L1220.3,844.57 L1221.3,845.58 L1222.3,846.62 L1223.3,847.68 L1224.3,848.77 L1225.3,849.88 L1226.3,851.02 L1227.3,852.17 L1228.3,853.35 L1229.3,854.54 L1230.3,855.75 L1231.3,856.97 L1232.3,858.21 L1233.3,859.46 L1234.3,860.72 L1235.3,861.99 L1236.3,863.26 L1237.3,864.54 L1238.3,865.82 L1239.3,867.11 L1240.3,868.39 L1241.3,869.68 L1242.3,870.97 L1243.3,872.25 L1244.3,873.53 L1245.3,874.80 L1246.3,876.06 L1247.3,877.32 L1248.3,878.57 L1249.3,879.81 L1250.3,881.03 L1251.3,882.25 L1252.3,883.45 L1253.3,884.64 L1254.3,885.81 L1255.3,886.97 L1256.3,888.11 L1257.3,889.23 L1258.3,890.33 L1259.3,891.42 L1260.3,892.49 L1261.3,893.53 L1262.3,894.56 L1263.3,895.57 L1264.3,896.55 L1265.3,897.51 L1266.3,898.45 L1267.3,899.37 L1268.3,900.27 L1269.3,901.14 L1270.3,901.99 L1271.3,902.82 L1272.3,903.62 L1273.3,904.40 L1274.3,905.16 L1275.3,905.90 L1276.3,906.61 L1277.3,907.30 L1278.3,907.96 L1279.3,908.60 L1280.3,909.22 L1281.3,909.82 L1282.3,910.39 L1283.3,910.94 L1284.3,911.47 L1285.3,911.97 L1286.3,912.46 L1287.3,912.92 L1288.3,913.36 L1289.3,913.78 L1290.3,914.18 L1291.3,914.55 L1292.3,914.91 L1293.3,915.24 L1294.3,915.56 L1295.3,915.85 L1296.3,916.13 L1297.3,916.38 L1298.3,916.62 L1299.3,916.84 L1300.3,917.04 L1301.3,917.22 L1302.3,917.38 L1303.3,917.52 L1304.3,917.64 L1305.3,917.75 L1306.3,917.84 L1307.3,917.91 L1308.3,917.97 L1309.3,918.00 L1310.3,918.02 L1311.3,918.03 L1312.3,918.01 L1313.3,917.98 L1314.3,917.94 L1315.3,917.87 L1316.3,917.80 L1317.3,917.70 L1318.3,917.59 L1319.3,917.46 L1320.3,917.32 L1321.3,917.16 L1322.3,916.99 L1323.3,916.80 L1324.3,916.59 L1325.3,916.37 L1326.3,916.13 L1327.3,915.88 L1328.3,915.61 L1329.3,915.33 L1330.3,915.04 L1331.3,914.72 L1332.3,914.40 L1333.3,914.06 L1334.3,913.70 L1335.3,913.33 L1336.3,912.94 L1337.3,912.55 L1338.3,912.13 L1339.3,911.71 L1340.3,911.27 L1341.3,910.81 L1342.3,910.35 L1343.3,909.87 L1344.3,909.37 L1345.3,908.87 L1346.3,908.35 L1347.3,907.82 L1348.3,907.28 L1349.3,906.73 L1350.3,906.17 L1351.3,905.60 L1352.3,905.01 L1353.3,904.42 L1354.3,903.82 L1355.3,903.21 L1356.3,902.59 L1357.3,901.97 L1358.3,901.34 L1359.3,900.70 L1360.3,900.05 L1361.3,899.41 L1362.3,898.75 L1363.3,898.10 L1364.3,897.43 L1365.3,896.77 L1366.3,896.11 L1367.3,895.44 L1368.3,894.78 L1369.3,894.11 L1370.3,893.45 L1371.3,892.79 L1372.3,892.13 L1373.3,891.48 L1374.3,890.83 L1375.3,890.18 L1376.3,889.54 L1377.3,888.91 L1378.3,888.29 L1379.3,887.68 L1380.3,887.07 L1381.3,886.48 L1382.3,885.90 L1383.3,885.33 L1384.3,884.77 L1385.3,884.23 L1386.3,883.70 L1387.3,883.19 L1388.3,882.70 L1389.3,882.22 L1390.3,881.76 L1391.3,881.32 L1392.3,880.89 L1393.3,880.49 L1394.3,880.11 L1395.3,879.75 L1396.3,879.41 L1397.3,879.09 L1398.3,878.80 L1399.3,878.52 L1400.3,878.28 L1401.3,878.05 L1402.3,877.85 L1403.3,877.68 L1404.3,877.53 L1405.3,877.41 L1406.3,877.31 L1407.3,877.24 L1408.3,877.19 L1409.3,877.17 L1410.3,877.18 L1411.3,877.21 L1412.3,877.26 L1413.3,877.35 L1414.3,877.45 L1415.3,877.59 L1416.3,877.75 L1417.3,877.93 L1418.3,878.14 L1419.3,878.37 L1420.3,878.63 L1421.3,878.91 L1422.3,879.22 L1423.3,879.54 L1424.3,879.89 L1425.3,880.26 L1426.3,880.65 L1427.3,881.06 L1428.3,881.49 L1429.3,881.94 L1430.3,882.41 L1431.3,882.90 L1432.3,883.40 L1433.3,883.92 L1434.3,884.45 L1435.3,885.00 L1436.3,885.57 L1437.3,886.14 L1438.3,886.73 L1439.3,887.33 L1440.3,887.93 L1441.3,888.55 L1442.3,889.18 L1443.3,889.82 L1444.3,890.46 L1445.3,891.11 L1446.3,891.76 L1447.3,892.42 L1448.3,893.08 L1449.3,893.74 L1450.3,894.41 L1451.3,895.08 L1452.3,895.75 L1453.3,896.42 L1454.3,897.09 L1455.3,897.75 L1456.3,898.42 L1457.3,899.08 L1458.3,899.74 L1459.3,900.39 L1460.3,901.04 L1461.3,901.68 L1462.3,902.32 L1463.3,902.95 L1464.3,903.57 L1465.3,904.19 L1466.3,904.80 L1467.3,905.40 L1468.3,905.99 L1469.3,906.57 L1470.3,907.14 L1471.3,907.71 L1472.3,908.26 L1473.3,908.80 L1474.3,909.34 L1475.3,909.86 L1476.3,910.37 L1477.3,910.87 L1478.3,911.36 L1479.3,911.83 L1480.3,912.30 L1481.3,912.75 L1482.3,913.20 L1483.3,913.63 L1484.3,914.05 L1485.3,914.45 L1486.3,914.85 L1487.3,915.24 L1488.3,915.61 L1489.3,915.97 L1490.3,916.32 L1491.3,916.66 L1492.3,916.99 L1493.3,917.31 L1494.3,917.62 L1495.3,917.91 L1496.3,918.20 L1497.3,918.47 L1498.3,918.74 L1499.3,919.00 L1500.3,919.24 L1501.3,919.48 L1502.3,919.71 L1503.3,919.92 L1504.3,920.13 L1505.3,920.33 L1506.3,920.53 L1507.3,920.71 L1508.3,920.89 L1509.3,921.06 L1510.3,921.22 L1511.3,921.37 L1512.3,921.52 L1513.3,921.66 L1514.3,921.80 L1515.3,921.92 L1516.3,922.04 L1517.3,922.16 L1518.3,922.27 L1519.3,922.37 L1520.3,922.47 L1521.3,922.57 L1522.3,922.66 L1523.3,922.74 L1524.3,922.82 L1525.3,922.90 L1526.3,922.97 L1527.3,923.04 L1528.3,923.10 L1529.3,923.16 L1530.3,923.22 L1531.3,923.27 L1532.3,923.32 L1533.3,923.37 L1534.3,923.42 L1535.3,923.46 L1536.3,923.50" fill="none" stroke="#FF8C00" stroke-width="3.0" stroke-linejoin="round" stroke-linecap="round"/>
<path d="M327.9,879.8 l11.85,-11.85 l11.85,11.85 l-11.85,11.85 z" fill="#006400" stroke="#000" stroke-width="1.6"/>
<path d="M305.3,879.8 l11.85,-11.85 l11.85,11.85 l-11.85,11.85 z" fill="#006400" stroke="#000" stroke-width="1.6"/>
<path d="M310.4,879.8 l11.85,-11.85 l11.85,11.85 l-11.85,11.85 z" fill="#006400" stroke="#000" stroke-width="1.6"/>
<path d="M312.3,879.8 l11.85,-11.85 l11.85,11.85 l-11.85,11.85 z" fill="#006400" stroke="#000" stroke-width="1.6"/>
<path d="M291.0,879.8 l11.85,-11.85 l11.85,11.85 l-11.85,11.85 z" fill="#006400" stroke="#000" stroke-width="1.6"/>
<path d="M295.1,879.8 l11.85,-11.85 l11.85,11.85 l-11.85,11.85 z" fill="#006400" stroke="#000" stroke-width="1.6"/>
<path d="M296.9,879.8 l11.85,-11.85 l11.85,11.85 l-11.85,11.85 z" fill="#006400" stroke="#000" stroke-width="1.6"/>
<path d="M341.9,879.8 l11.85,-11.85 l11.85,11.85 l-11.85,11.85 z" fill="#006400" stroke="#000" stroke-width="1.6"/>
<path d="M370.9,879.8 l11.85,-11.85 l11.85,11.85 l-11.85,11.85 z" fill="#006400" stroke="#000" stroke-width="1.6"/>
<path d="M356.9,879.8 l11.85,-11.85 l11.85,11.85 l-11.85,11.85 z" fill="#006400" stroke="#000" stroke-width="1.6"/>
<path d="M397.2,879.8 l11.85,-11.85 l11.85,11.85 l-11.85,11.85 z" fill="#006400" stroke="#000" stroke-width="1.6"/>
<path d="M409.0,879.8 l11.85,-11.85 l11.85,11.85 l-11.85,11.85 z" fill="#006400" stroke="#000" stroke-width="1.6"/>
<path d="M441.9,879.8 l11.85,-11.85 l11.85,11.85 l-11.85,11.85 z" fill="#006400" stroke="#000" stroke-width="1.6"/>
<path d="M231.5,879.8 l11.85,-11.85 l11.85,11.85 l-11.85,11.85 z" fill="#006400" stroke="#000" stroke-width="1.6"/>
<path d="M214.8,901.9 l11.85,-11.85 l11.85,11.85 l-11.85,11.85 z" fill="#00FFFF" stroke="#000" stroke-width="1.6"/>
<path d="M224.1,901.9 l11.85,-11.85 l11.85,11.85 l-11.85,11.85 z" fill="#00FFFF" stroke="#000" stroke-width="1.6"/>
<path d="M247.5,901.9 l11.85,-11.85 l11.85,11.85 l-11.85,11.85 z" fill="#00FFFF" stroke="#000" stroke-width="1.6"/>
<path d="M269.2,901.9 l11.85,-11.85 l11.85,11.85 l-11.85,11.85 z" fill="#00FFFF" stroke="#000" stroke-width="1.6"/>
<path d="M297.8,901.9 l11.85,-11.85 l11.85,11.85 l-11.85,11.85 z" fill="#00FFFF" stroke="#000" stroke-width="1.6"/>
<path d="M334.8,901.9 l11.85,-11.85 l11.85,11.85 l-11.85,11.85 z" fill="#00FFFF" stroke="#000" stroke-width="1.6"/>
<path d="M327.3,901.9 l11.85,-11.85 l11.85,11.85 l-11.85,11.85 z" fill="#00FFFF" stroke="#000" stroke-width="1.6"/>
<path d="M321.2,901.9 l11.85,-11.85 l11.85,11.85 l-11.85,11.85 z" fill="#00FFFF" stroke="#000" stroke-width="1.6"/>
<path d="M348.9,901.9 l11.85,-11.85 l11.85,11.85 l-11.85,11.85 z" fill="#00FFFF" stroke="#000" stroke-width="1.6"/>
<path d="M370.9,901.9 l11.85,-11.85 l11.85,11.85 l-11.85,11.85 z" fill="#00FFFF" stroke="#000" stroke-width="1.6"/>
<path d="M393.8,901.9 l11.85,-11.85 l11.85,11.85 l-11.85,11.85 z" fill="#00FFFF" stroke="#000" stroke-width="1.6"/>
<path d="M1265.2,901.9 l11.85,-11.85 l11.85,11.85 l-11.85,11.85 z" fill="#00FFFF" stroke="#000" stroke-width="1.6"/>
<circle cx="382.8" cy="901.9" r="9.50" fill="#00FFFF" stroke="#000" stroke-width="1.6"/>
<circle cx="397.2" cy="901.9" r="9.50" fill="#00FFFF" stroke="#000" stroke-width="1.6"/>
<circle cx="414.3" cy="901.9" r="9.50" fill="#00FFFF" stroke="#000" stroke-width="1.6"/>
<circle cx="421.4" cy="901.9" r="9.50" fill="#00FFFF" stroke="#000" stroke-width="1.6"/>
<circle cx="456.6" cy="901.9" r="9.50" fill="#00FFFF" stroke="#000" stroke-width="1.6"/>
<circle cx="602.2" cy="901.9" r="9.50" fill="#00FFFF" stroke="#000" stroke-width="1.6"/>
<circle cx="587.8" cy="901.9" r="9.50" fill="#00FFFF" stroke="#000" stroke-width="1.6"/>
<circle cx="688.1" cy="901.9" r="9.50" fill="#00FFFF" stroke="#000" stroke-width="1.6"/>
<circle cx="741.0" cy="901.9" r="9.50" fill="#00FFFF" stroke="#000" stroke-width="1.6"/>
<circle cx="755.1" cy="901.9" r="9.50" fill="#00FFFF" stroke="#000" stroke-width="1.6"/>
<circle cx="1205.1" cy="901.9" r="9.50" fill="#00FFFF" stroke="#000" stroke-width="1.6"/>
<circle cx="1188.6" cy="901.9" r="9.50" fill="#00FFFF" stroke="#000" stroke-width="1.6"/>
<circle cx="1409.6" cy="901.9" r="9.50" fill="#00FFFF" stroke="#000" stroke-width="1.6"/>
<path d="M298.8,924.1 l11.85,-11.85 l11.85,11.85 l-11.85,11.85 z" fill="#A020F0" stroke="#000" stroke-width="1.6"/>
<circle cx="413.8" cy="924.1" r="9.50" fill="#A020F0" stroke="#000" stroke-width="1.6"/>
<circle cx="520.0" cy="924.1" r="9.50" fill="#A020F0" stroke="#000" stroke-width="1.6"/>
<circle cx="591.5" cy="924.1" r="9.50" fill="#A020F0" stroke="#000" stroke-width="1.6"/>
<circle cx="585.9" cy="924.1" r="9.50" fill="#A020F0" stroke="#000" stroke-width="1.6"/>
<circle cx="719.8" cy="924.1" r="9.50" fill="#A020F0" stroke="#000" stroke-width="1.6"/>
<circle cx="707.8" cy="924.1" r="9.50" fill="#A020F0" stroke="#000" stroke-width="1.6"/>
<path d="M423.8,946.2 l11.85,-11.85 l11.85,11.85 l-11.85,11.85 z" fill="#BEBEBE" stroke="#000" stroke-width="1.6"/>
<circle cx="384.8" cy="946.2" r="9.50" fill="#BEBEBE" stroke="#000" stroke-width="1.6"/>
<circle cx="452.3" cy="946.2" r="9.50" fill="#BEBEBE" stroke="#000" stroke-width="1.6"/>
<circle cx="504.4" cy="946.2" r="9.50" fill="#BEBEBE" stroke="#000" stroke-width="1.6"/>
</g>
<line x1="132.1" y1="923.9" x2="151.5" y2="923.9" stroke="#000" stroke-width="2.0" stroke-linecap="round"/>
<text transform="translate(105.0,924.4) rotate(-90)" text-anchor="middle">0</text>
<line x1="132.1" y1="749.8" x2="151.5" y2="749.8" stroke="#000" stroke-width="2.0" stroke-linecap="round"/>
<text transform="translate(105.0,750.3) rotate(-90)" text-anchor="middle">2000</text>
<line x1="132.1" y1="575.7" x2="151.5" y2="575.7" stroke="#000" stroke-width="2.0" stroke-linecap="round"/>
<text transform="translate(105.0,576.2) rotate(-90)" text-anchor="middle">4000</text>
<line x1="132.1" y1="401.7" x2="151.5" y2="401.7" stroke="#000" stroke-width="2.0" stroke-linecap="round"/>
<text transform="translate(105.0,402.2) rotate(-90)" text-anchor="middle">6000</text>
<line x1="132.1" y1="227.6" x2="151.5" y2="227.6" stroke="#000" stroke-width="2.0" stroke-linecap="round"/>
<text transform="translate(105.0,228.1) rotate(-90)" text-anchor="middle">8000</text>
<line x1="132.1" y1="53.5" x2="151.5" y2="53.5" stroke="#000" stroke-width="2.0" stroke-linecap="round"/>
<text transform="translate(105.0,54.0) rotate(-90)" text-anchor="middle">10000</text>
<line x1="201.0" y1="959.1" x2="201.0" y2="978.8" stroke="#000" stroke-width="2.0" stroke-linecap="round"/>
<text x="201.0" y="1029.5" text-anchor="middle">0.7088</text>
<line x1="476.4" y1="959.1" x2="476.4" y2="978.8" stroke="#000" stroke-width="2.0" stroke-linecap="round"/>
<text x="476.4" y="1029.5" text-anchor="middle">0.7090</text>
<line x1="751.9" y1="959.1" x2="751.9" y2="978.8" stroke="#000" stroke-width="2.0" stroke-linecap="round"/>
<text x="751.9" y="1029.5" text-anchor="middle">0.7092</text>
<line x1="1027.3" y1="959.1" x2="1027.3" y2="978.8" stroke="#000" stroke-width="2.0" stroke-linecap="round"/>
<text x="1027.3" y="1029.5" text-anchor="middle">0.7094</text>
<line x1="1302.8" y1="959.1" x2="1302.8" y2="978.8" stroke="#000" stroke-width="2.0" stroke-linecap="round"/>
<text x="1302.8" y="1029.5" text-anchor="middle">0.7096</text>
<rect x="101.0" y="81.5" width="5.2" height="6.2" fill="#fff"/><rect x="101.0" y="91.9" width="5.2" height="6.4" fill="#fff"/>
<text transform="translate(26.8,480.7) rotate(-90)" text-anchor="middle">Density</text>
<g id="xlab">
<text class="sup" x="754.2" y="1066.8">87</text>
<text x="779.4" y="1082.9">Sr</text>
<line x1="816.6" y1="1088.2" x2="825.0" y2="1054.6" stroke="#000" stroke-width="2.3"/>
<text class="sup" x="829.2" y="1066.8">86</text>
<text x="854.4" y="1082.9">Sr</text>
</g>
<rect x="1067.7" y="3.4" width="422.4" height="428.6" fill="#fff" stroke="#000" stroke-width="2.0"/>
<circle cx="1105.6" cy="42.3" r="10.80" fill="none" stroke="#000" stroke-width="1.6"/>
<path d="M1092.1,81.3 l13.47,-13.47 l13.47,13.47 l-13.47,13.47 z" fill="none" stroke="#000" stroke-width="1.6"/>
<rect x="1095.2" y="109.9" width="20.8" height="20.8" fill="#A020F0"/>
<rect x="1095.2" y="148.9" width="20.8" height="20.8" fill="#00FFFF"/>
<rect x="1095.2" y="187.9" width="20.8" height="20.8" fill="#006400"/>
<rect x="1095.2" y="226.9" width="20.8" height="20.8" fill="#BEBEBE"/>
<line x1="1076.8" y1="276.3" x2="1135.0" y2="276.3" stroke="#FF8C00" stroke-width="3.5" stroke-linecap="round"/>
<line x1="1076.8" y1="315.3" x2="1135.0" y2="315.3" stroke="#000" stroke-width="3.5" stroke-linecap="round"/>
<line x1="1076.8" y1="354.3" x2="1135.0" y2="354.3" stroke="#FF8C00" stroke-width="3.5" stroke-linecap="round" stroke-dasharray="15.4 15.8"/>
<line x1="1076.8" y1="393.3" x2="1135.0" y2="393.3" stroke="#000" stroke-width="3.5" stroke-linecap="round" stroke-dasharray="15.4 15.8"/>
<text x="1164.0" y="54.3">Cremated</text>
<text x="1164.0" y="93.3">Inhumed</text>
<text x="1164.0" y="132.3">Phase A</text>
<text x="1164.0" y="171.3">Phase B</text>
<text x="1164.0" y="210.3">Phase C</text>
<text x="1164.0" y="249.3">Phase indet.</text>
<text x="1164.0" y="288.3">All cremated</text>
<text x="1164.0" y="327.3">All inhumed</text>
<text x="1164.0" y="366.3">Cremated child range</text>
<text x="1164.0" y="405.3">Inhumed child range</text>
</svg>
</body></html>
